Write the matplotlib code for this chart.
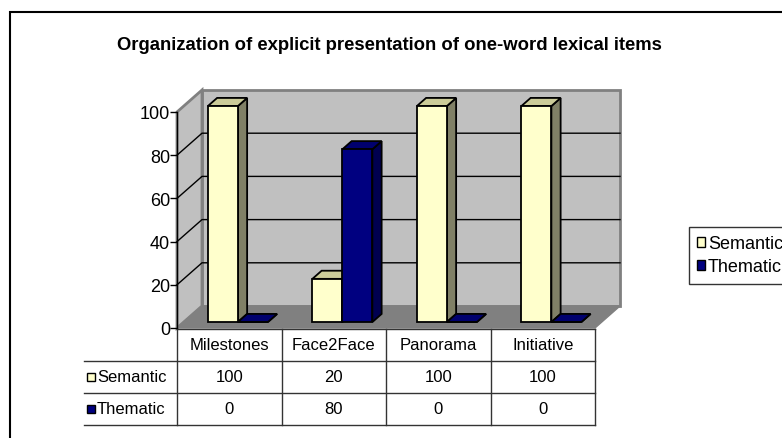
import matplotlib
matplotlib.use("Agg")
import matplotlib.pyplot as plt
from matplotlib.patches import Polygon, Rectangle, Patch

plt.rcParams['font.family'] = ['Liberation Sans', 'DejaVu Sans']

# data
categories = ["Milestones", "Face2Face", "Panorama", "Initiative"]
semantic = [100, 20, 100, 100]
thematic = [0, 80, 0, 0]
series_names = ["Semantic", "Thematic"]
yticks = [0, 20, 40, 60, 80, 100]
title = "Organization of explicit presentation of one-word lexical items"

W, H = 782, 439
fig = plt.figure(figsize=(W / 100, H / 100), dpi=100)
fig.patch.set_facecolor("white")

# front plane of the 3d box, in pixels
x_left, x_right, y_top, y_bot = 177, 595, 113, 329
ax = fig.add_axes([x_left / W, (H - y_bot) / H, (x_right - x_left) / W, (y_bot - y_top) / H])
ax.set_xlim(-0.5, len(categories) - 0.5)
ax.set_ylim(0, 100)
ax.patch.set_visible(False)

# depth offset of back wall (25 px right, 22 px up) in data units
px_x = (len(categories)) / (x_right - x_left)
px_y = 100 / (y_bot - y_top)
ddx, ddy = 25 * px_x, 22 * px_y

def ypix(py):
    return (y_bot - py) * px_y

x0, x1 = -0.5, len(categories) - 0.5
wall_grey, floor_grey = "#c0c0c0", "#808080"

# back wall
ax.add_patch(Polygon([(x0 + ddx, ddy), (x1 + ddx, ddy), (x1 + ddx, 100 + ddy), (x0 + ddx, 100 + ddy)],
                     closed=True, facecolor=wall_grey, edgecolor=floor_grey, lw=2, zorder=1, clip_on=False))
# side wall
ax.add_patch(Polygon([(x0, 0), (x0, 100), (x0 + ddx, 100 + ddy), (x0 + ddx, ddy)],
                     closed=True, facecolor=wall_grey, edgecolor=floor_grey, lw=2, zorder=1, clip_on=False))
# floor
ax.add_patch(Polygon([(x0, 0), (x1, 0), (x1 + ddx, ddy), (x0 + ddx, ddy)],
                     closed=True, facecolor=floor_grey, edgecolor=floor_grey, lw=1, zorder=1.1, clip_on=False))
# gridlines
for t in yticks[1:-1]:
    ax.plot([x0, x0 + ddx, x1 + ddx], [t, t + ddy, t + ddy], color="black", lw=1, zorder=1.2, clip_on=False)

# front axis
for s in ["top", "right", "bottom"]:
    ax.spines[s].set_visible(False)
ax.spines["left"].set_color("black")
ax.spines["left"].set_linewidth(1)
ax.spines["left"].set_zorder(2)
ax.set_xticks([])
ax.set_yticks(yticks)
ax.tick_params(axis="y", direction="out", length=5, width=1, labelsize=13, pad=0)

# bars
w = 30 * px_x
f0, dep = 0.27, 0.37
bx, by = f0 * ddx, f0 * ddy
sx, sy = dep * ddx, dep * ddy
styles = [("#ffffcc", "#cccc99", "#808066"), ("#000080", "#00006e", "#000050")]
xs = list(range(len(categories)))
z = 3.0
for i in xs:
    for k, vals in enumerate([semantic, thematic]):
        front, top, side = styles[k]
        left = i - w + 0.018 + k * w + bx
        v = vals[i]
        bars = ax.bar(left, v, width=w, bottom=by, align="edge", color=front,
                      edgecolor="black", lw=1.3, zorder=z + 0.002, clip_on=False)
        right = left + w
        ax.add_patch(Polygon([(right, by), (right, by + v), (right + sx, by + v + sy), (right + sx, by + sy)],
                             closed=True, facecolor=side, edgecolor="black", lw=1.3, zorder=z, clip_on=False))
        ax.add_patch(Polygon([(left, by + v), (right, by + v), (right + sx, by + v + sy), (left + sx, by + v + sy)],
                             closed=True, facecolor=top, edgecolor="black", lw=1.3, zorder=z + 0.001, clip_on=False))
        z += 0.01

# data table
row_y = [330, 362, 394, 426]
table_left = 84
line_kw = dict(color="#333333", lw=1, clip_on=False, zorder=2)
ax.plot([x0, x1], [ypix(row_y[0])] * 2, **line_kw)
for ry in row_y[1:]:
    ax.plot([x0 - (x_left - table_left) * px_x, x1], [ypix(ry)] * 2, **line_kw)
for j in range(len(categories) + 1):
    ax.plot([x0 + j, x0 + j], [ypix(row_y[0]), ypix(row_y[-1])], **line_kw)
for i, c in enumerate(categories):
    ax.text(i, ypix((row_y[0] + row_y[1]) / 2), c, ha="center", va="center", fontsize=12, clip_on=False)
    for r, vals in enumerate([semantic, thematic]):
        ax.text(i, ypix((row_y[r + 1] + row_y[r + 2]) / 2), str(vals[i]), ha="center", va="center",
                fontsize=12, clip_on=False)
for r, name in enumerate(series_names):
    yc = ypix((row_y[r + 1] + row_y[r + 2]) / 2)
    ms = 8
    ax.add_patch(Rectangle((x0 - (x_left - table_left - 3) * px_x, yc - ms / 2 * px_y), ms * px_x, ms * px_y,
                           facecolor=styles[r][0], edgecolor="black", lw=1, clip_on=False, zorder=3))
    ax.text(x0 - (x_left - table_left - 13) * px_x, yc, name, ha="left", va="center", fontsize=12, clip_on=False)

# legend
handles = [Patch(facecolor=styles[k][0], edgecolor="black", label=n) for k, n in enumerate(series_names)]
leg = fig.legend(handles=handles, loc="upper left", bbox_to_anchor=(689 / W, 1 - 228 / H),
                 frameon=True, fancybox=False, fontsize=13, handlelength=0.45, handleheight=0.45,
                 handletextpad=0.15, labelspacing=0.35, borderpad=0.45, borderaxespad=0)
leg.get_frame().set_edgecolor("black")
leg.get_frame().set_linewidth(1)

# outer chart border (top and left edges visible)
fig.patches.append(Rectangle((10 / W, -0.1), 1.2, 1.1 - 13 / H, transform=fig.transFigure,
                             facecolor="none", edgecolor="black", lw=1.5, figure=fig))

fig.text(389 / W, 1 - 45 / H, title, ha="center", va="center", fontsize=13.3, fontweight="bold")

fig.savefig("out.png", dpi=100)
